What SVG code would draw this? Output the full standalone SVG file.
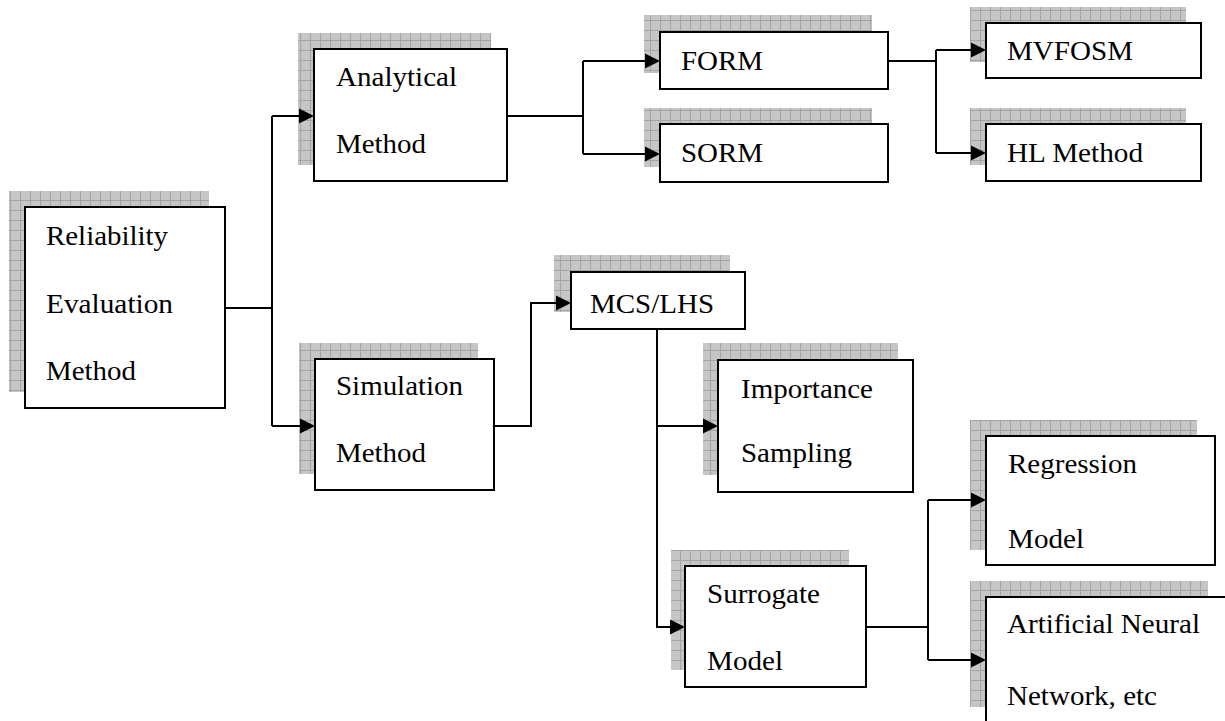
<svg xmlns="http://www.w3.org/2000/svg" width="1225" height="721" viewBox="0 0 1225 721">
  <style>
    .box { fill: #ffffff; stroke: #000000; stroke-width: 2; }
    .shadow { fill: url(#grid); }
    text { font-family: "Times New Roman", "Liberation Serif", Times, "DejaVu Serif", serif; font-size: 26.5px; fill: #000000; }
    .wire { fill: none; stroke: #000000; stroke-width: 2; }
    .head { fill: #000000; stroke: none; }
  </style>
  <defs>
    <pattern id="grid" width="10" height="10" patternUnits="userSpaceOnUse">
      <rect width="10" height="10" fill="#c6c6c6"/>
      <path d="M0.5 0 V10 M0 0.5 H10" stroke="#a4a4a4" stroke-width="1"/>
    </pattern>
  </defs>

  <rect width="1225" height="721" fill="#ffffff"/>

  <!-- nodes: hatched drop shadow, white box, label lines -->
  <g id="reliability">
    <rect class="shadow" x="9" y="191" width="200" height="201"/>
    <rect class="box" x="25" y="207" width="200" height="201"/>
    <text x="46" y="245" textLength="122" lengthAdjust="spacingAndGlyphs">Reliability</text>
    <text x="46" y="313" textLength="127" lengthAdjust="spacingAndGlyphs">Evaluation</text>
    <text x="46" y="380" textLength="90" lengthAdjust="spacingAndGlyphs">Method</text>
  </g>

  <g id="analytical">
    <rect class="shadow" x="298" y="33" width="193" height="132"/>
    <rect class="box" x="314" y="49" width="193" height="132"/>
    <text x="336" y="86" textLength="121" lengthAdjust="spacingAndGlyphs">Analytical</text>
    <text x="336" y="153" textLength="90" lengthAdjust="spacingAndGlyphs">Method</text>
  </g>

  <g id="simulation">
    <rect class="shadow" x="299" y="343" width="179" height="131"/>
    <rect class="box" x="315" y="359" width="179" height="131"/>
    <text x="336" y="395" textLength="127" lengthAdjust="spacingAndGlyphs">Simulation</text>
    <text x="336" y="462" textLength="90" lengthAdjust="spacingAndGlyphs">Method</text>
  </g>

  <g id="form">
    <rect class="shadow" x="644" y="15" width="228" height="58"/>
    <rect class="box" x="660" y="32" width="228" height="57"/>
    <text x="681" y="70" textLength="82" lengthAdjust="spacingAndGlyphs">FORM</text>
  </g>

  <g id="sorm">
    <rect class="shadow" x="644" y="108" width="228" height="59"/>
    <rect class="box" x="660" y="124" width="228" height="58"/>
    <text x="681" y="162" textLength="82" lengthAdjust="spacingAndGlyphs">SORM</text>
  </g>

  <g id="mvfosm">
    <rect class="shadow" x="970" y="7" width="216" height="55"/>
    <rect class="box" x="986" y="23" width="215" height="55"/>
    <text x="1007" y="60" textLength="126" lengthAdjust="spacingAndGlyphs">MVFOSM</text>
  </g>

  <g id="hl-method">
    <rect class="shadow" x="970" y="108" width="216" height="57"/>
    <rect class="box" x="986" y="124" width="215" height="57"/>
    <text x="1007" y="162" textLength="136" lengthAdjust="spacingAndGlyphs">HL Method</text>
  </g>

  <g id="mcs-lhs">
    <rect class="shadow" x="554" y="255" width="176" height="57"/>
    <rect class="box" x="571" y="272" width="174" height="57"/>
    <text x="590" y="313" textLength="124" lengthAdjust="spacingAndGlyphs">MCS/LHS</text>
  </g>

  <g id="importance">
    <rect class="shadow" x="703" y="343" width="195" height="132"/>
    <rect class="box" x="718" y="360" width="195" height="132"/>
    <text x="741" y="398" textLength="132" lengthAdjust="spacingAndGlyphs">Importance</text>
    <text x="741" y="462" textLength="111" lengthAdjust="spacingAndGlyphs">Sampling</text>
  </g>

  <g id="surrogate">
    <rect class="shadow" x="671" y="550" width="178" height="120"/>
    <rect class="box" x="685" y="566" width="181" height="121"/>
    <text x="707" y="603" textLength="113" lengthAdjust="spacingAndGlyphs">Surrogate</text>
    <text x="707" y="670" textLength="76" lengthAdjust="spacingAndGlyphs">Model</text>
  </g>

  <g id="regression">
    <rect class="shadow" x="970" y="420" width="227" height="130"/>
    <rect class="box" x="986" y="436" width="229" height="129"/>
    <text x="1008" y="473" textLength="129" lengthAdjust="spacingAndGlyphs">Regression</text>
    <text x="1008" y="548" textLength="76" lengthAdjust="spacingAndGlyphs">Model</text>
  </g>

  <g id="ann">
    <rect class="shadow" x="970" y="581" width="238" height="126"/>
    <rect class="box" x="986" y="597" width="260" height="150"/>
    <text x="1007" y="633" textLength="193" lengthAdjust="spacingAndGlyphs">Artificial Neural</text>
    <text x="1007" y="705" textLength="150" lengthAdjust="spacingAndGlyphs">Network, etc</text>
  </g>

  <!-- connectors: elbow lines, then filled arrowheads pointing right -->
  <g id="connectors">
    <path class="wire" d="M225 308 H272 M272 116 V426"/>
    <path class="wire" d="M272 116 H302"/>
    <path class="wire" d="M272 426 H303"/>

    <path class="wire" d="M507 116 H583 M583 61 V154"/>
    <path class="wire" d="M583 61 H648"/>
    <path class="wire" d="M583 154 H648"/>

    <path class="wire" d="M888 61 H936 M936 50 V153"/>
    <path class="wire" d="M936 50 H974"/>
    <path class="wire" d="M936 153 H974"/>

    <path class="wire" d="M494 426 H531 V303 H559"/>

    <path class="wire" d="M657 329 V627 H673"/>
    <path class="wire" d="M657 426 H706"/>

    <path class="wire" d="M866 627 H928 M928 500 V660"/>
    <path class="wire" d="M928 500 H974"/>
    <path class="wire" d="M928 660 H974"/>

    <polygon class="head" points="299,108.5 314,116 299,123.5"/>
    <polygon class="head" points="300,418.5 315,426 300,433.5"/>
    <polygon class="head" points="645,53.5 660,61 645,68.5"/>
    <polygon class="head" points="645,146.5 660,154 645,161.5"/>
    <polygon class="head" points="971,42.5 986,50 971,57.5"/>
    <polygon class="head" points="971,145.5 986,153 971,160.5"/>
    <polygon class="head" points="556,295.5 571,303 556,310.5"/>
    <polygon class="head" points="670,619.5 685,627 670,634.5"/>
    <polygon class="head" points="703,418.5 718,426 703,433.5"/>
    <polygon class="head" points="971,492.5 986,500 971,507.5"/>
    <polygon class="head" points="971,652.5 986,660 971,667.5"/>
  </g>
</svg>
